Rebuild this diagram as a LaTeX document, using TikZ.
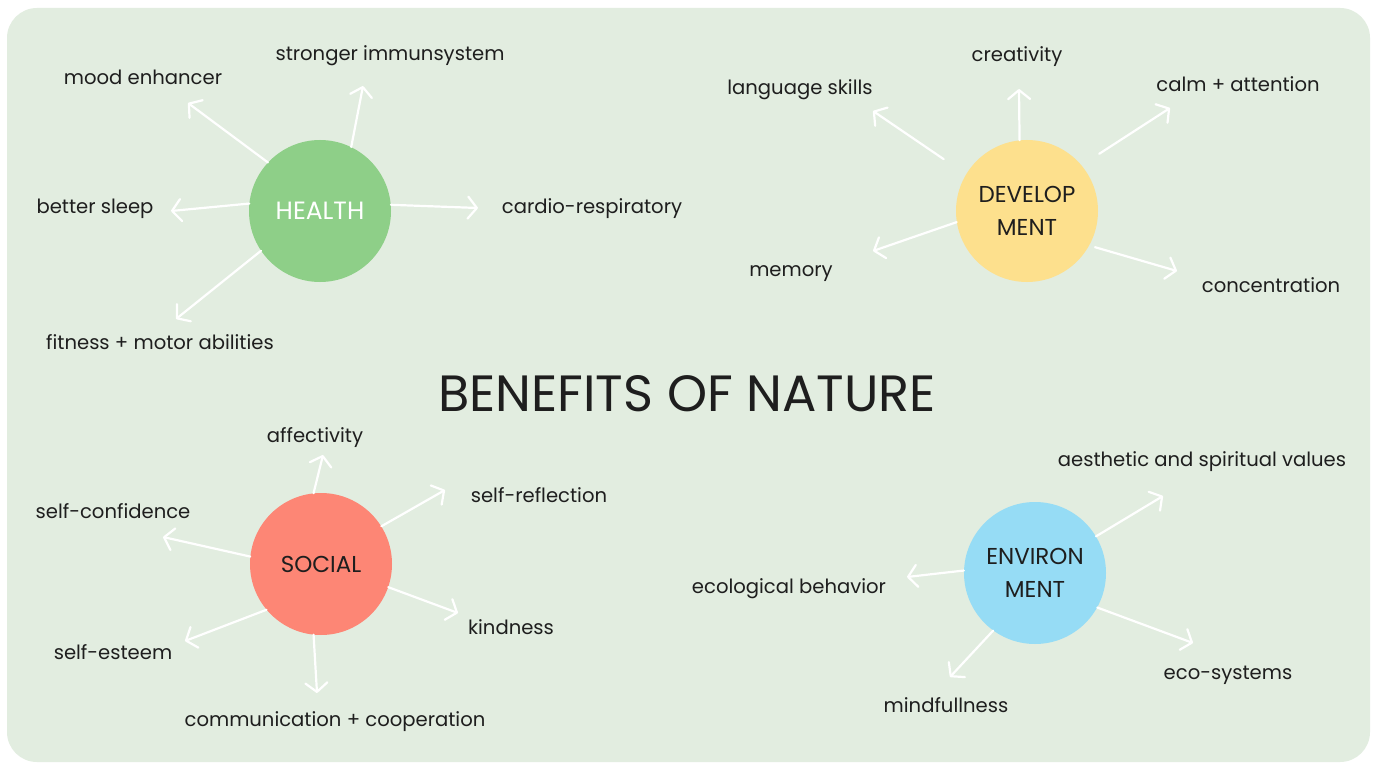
\documentclass[tikz,border=0pt]{standalone}
\usepackage{fontspec}
\setmainfont{Poppins}
\usetikzlibrary{arrows.meta}
\definecolor{panel}{HTML}{E2EDE0}
\definecolor{ink}{HTML}{1E1E1E}
\definecolor{hgreen}{HTML}{8ECF88}
\definecolor{dyellow}{HTML}{FDE08D}
\definecolor{ssalmon}{HTML}{FD8675}
\definecolor{eblue}{HTML}{96DCF5}

\begin{document}
\begin{tikzpicture}[x=1pt,y=-1pt,
    hub/.style={circle,minimum size=142pt,inner sep=0pt,align=center,text=ink,
      font=\fontsize{23}{33}\selectfont},
    lbl/.style={text=ink,inner sep=0pt,font=\fontsize{19.6}{23}\selectfont},
    arr/.style={draw=white,line width=2.2pt,line cap=round,
      -{Straight Barb[length=9pt,width=22pt,round]}}]
  \useasboundingbox[fill=white] (0,0) rectangle (1374,765);
  \fill[panel,rounded corners=30pt] (7,8) rectangle (1370,762);

  \node[font=\fontsize{51}{56}\selectfont,text=ink] (title) at (687,394) {BENEFITS OF NATURE};

  \node[hub,fill=hgreen,text=white,font=\fontsize{25}{30}\selectfont] (health) at (320,211) {HEALTH};
  \node[hub,fill=dyellow] (dev) at (1027,211) {DEVELOP\\MENT};
  \node[hub,fill=ssalmon] (social) at (321,564) {SOCIAL};
  \node[hub,fill=eblue] (env) at (1035,573) {ENVIRON\\MENT};

  \node[lbl] (mood) at (143,77) {mood enhancer};
  \node[lbl] (immune) at (390,56) {stronger immunsystem};
  \node[lbl] (sleep) at (95,209) {better sleep};
  \node[lbl] (cardio) at (592,209) {cardio-respiratory};
  \node[lbl] (fitness) at (160,342) {fitness + motor abilities};

  \node[lbl] (lang) at (800,90) {language skills};
  \node[lbl] (creat) at (1017,57) {creativity};
  \node[lbl] (calm) at (1238,84) {calm + attention};
  \node[lbl] (memory) at (791,274) {memory};
  \node[lbl] (conc) at (1271,285) {concentration};

  \node[lbl] (affect) at (315,438) {affectivity};
  \node[lbl] (reflect) at (539,495) {self-reflection};
  \node[lbl] (confid) at (113,511) {self-confidence};
  \node[lbl] (kind) at (511,627) {kindness};
  \node[lbl] (esteem) at (113,652) {self-esteem};
  \node[lbl] (comm) at (335,722) {communication + cooperation};

  \node[lbl] (aesth) at (1202,462) {aesthetic and spiritual values};
  \node[lbl] (ecobeh) at (789,589) {ecological behavior};
  \node[lbl] (ecosys) at (1228,675) {eco-systems};
  \node[lbl] (mindf) at (946,705) {mindfullness};

  \coordinate (t-mood) at (188,103);
  \coordinate (t-immune) at (363,86);
  \coordinate (t-sleep) at (171,211);
  \coordinate (t-cardio) at (478,208);
  \coordinate (t-fitness) at (176,319);
  \coordinate (t-lang) at (873,111);
  \coordinate (t-creat) at (1019,89);
  \coordinate (t-calm) at (1170,108);
  \coordinate (t-memory) at (873,251);
  \coordinate (t-conc) at (1177,271);
  \coordinate (t-affect) at (323,455);
  \coordinate (t-reflect) at (445,490);
  \coordinate (t-confid) at (163,537);
  \coordinate (t-kind) at (458,613);
  \coordinate (t-esteem) at (185,641);
  \coordinate (t-comm) at (317,693);
  \coordinate (t-aesth) at (1163,496);
  \coordinate (t-ecobeh) at (907,577);
  \coordinate (t-ecosys) at (1193,643);
  \coordinate (t-mindf) at (950,677);

  \draw[arr] (health.137) -- (t-mood);
  \draw[arr] (health.64) -- (t-immune);
  \draw[arr] (health.174) -- (t-sleep);
  \draw[arr] (health.5) -- (t-cardio);
  \draw[arr] (health.214) -- (t-fitness);

  \draw[arr,shorten <=27pt] (dev.149) -- (t-lang);
  \draw[arr] (dev.96) -- (t-creat);
  \draw[arr,shorten <=21pt] (dev.40) -- (t-calm);
  \draw[arr] (dev.189) -- (t-memory);
  \draw[arr,shorten <=6pt] (dev.331) -- (t-conc);

  \draw[arr] (social.96) -- (t-affect);
  \draw[arr] (social.32) -- (t-reflect);
  \draw[arr] (social.174) -- (t-confid);
  \draw[arr] (social.341) -- (t-kind);
  \draw[arr] (social.220) -- (t-esteem);
  \draw[arr] (social.264) -- (t-comm);

  \draw[arr] (env.31) -- (t-aesth);
  \draw[arr] (env.178) -- (t-ecobeh);
  \draw[arr] (env.331) -- (t-ecosys);
  \draw[arr] (env.234) -- (t-mindf);
\end{tikzpicture}
\end{document}
